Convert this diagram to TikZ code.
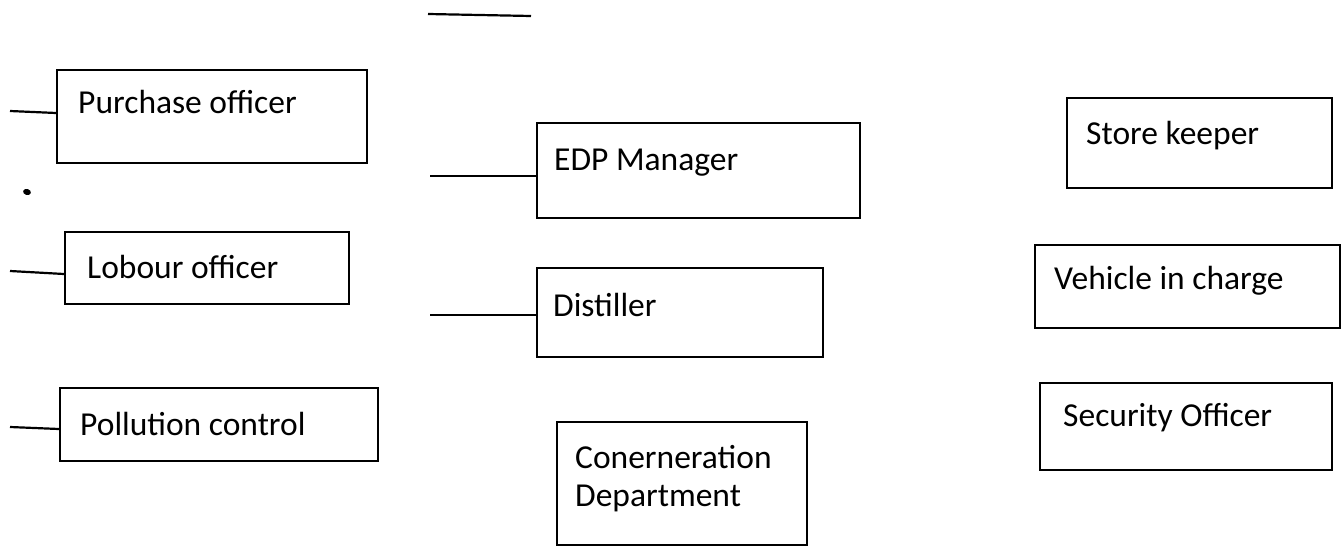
\documentclass[tikz,border=0pt]{standalone}
\usepackage{fontspec}
\setmainfont{Carlito}
\begin{document}
\begin{tikzpicture}[x=1pt,y=-1pt,
  box/.style={draw, line width=2.2pt, rectangle, inner sep=0pt},
  lab/.style={anchor=base west, inner sep=0pt, font=\fontsize{33.5}{40}\selectfont},
  wire/.style={line width=2.2pt}]
\useasboundingbox (0,0) rectangle (1343,548);

% boxes, placed by centre and size
\node[box, minimum width=310pt, minimum height=93pt] (po) at (212,116.5) {};
\node[box, minimum width=323pt, minimum height=95pt] (edp) at (698.5,170.5) {};
\node[box, minimum width=265pt, minimum height=90pt] (sk) at (1199.5,143) {};
\node[box, minimum width=284pt, minimum height=72pt] (lo) at (207,268) {};
\node[box, minimum width=286pt, minimum height=89pt] (dist) at (680,312.5) {};
\node[box, minimum width=305pt, minimum height=83pt] (vic) at (1187.5,286.5) {};
\node[box, minimum width=318pt, minimum height=73pt] (pc) at (219,424.5) {};
\node[box, minimum width=250pt, minimum height=123pt] (cd) at (682,483.5) {};
\node[box, minimum width=292pt, minimum height=87pt] (so) at (1186,426.5) {};

% labels
\node[lab] (po-t) at (78,114) {Purchase officer};
\node[lab] (edp-t) at (554,171) {EDP Manager};
\node[lab] (sk-t) at (1086,145) {Store keeper};
\node[lab] (lo-t) at (87,278) {Lobour officer};
\node[lab] (dist-t) at (553,316) {Distiller};
\node[lab] (vic-t) at (1054,289) {Vehicle in charge};
\node[lab] (pc-t) at (80,435) {Pollution control};
\node[lab] (cd-t1) at (575,468) {Conerneration};
\node[lab] (cd-t2) at (575,506) {Department};
\node[lab] (so-t) at (1063,426) {Security Officer};

% free line ends
\coordinate (top-a) at (428,14);
\coordinate (top-b) at (531,16);
\coordinate (po-in) at (10,111);
\coordinate (edp-in) at (430,176);
\coordinate (lo-in) at (10,271);
\coordinate (dist-in) at (430,315);
\coordinate (pc-in) at (10,427);

\draw[wire] (top-a) -- (top-b);
\draw[wire] (po-in) -- ([yshift=-2pt]po-in -| po.west);
\draw[wire] (edp-in) -- (edp-in -| edp.west);
\draw[wire] (lo-in) -- ([yshift=-3pt]lo-in -| lo.west);
\draw[wire] (dist-in) -- (dist-in -| dist.west);
\draw[wire] (pc-in) -- ([yshift=-2pt]pc-in -| pc.west);

% stray dot
\fill[rotate around={-15:(27,192)}] (27,192) ellipse (4pt and 3pt);
\end{tikzpicture}
\end{document}
